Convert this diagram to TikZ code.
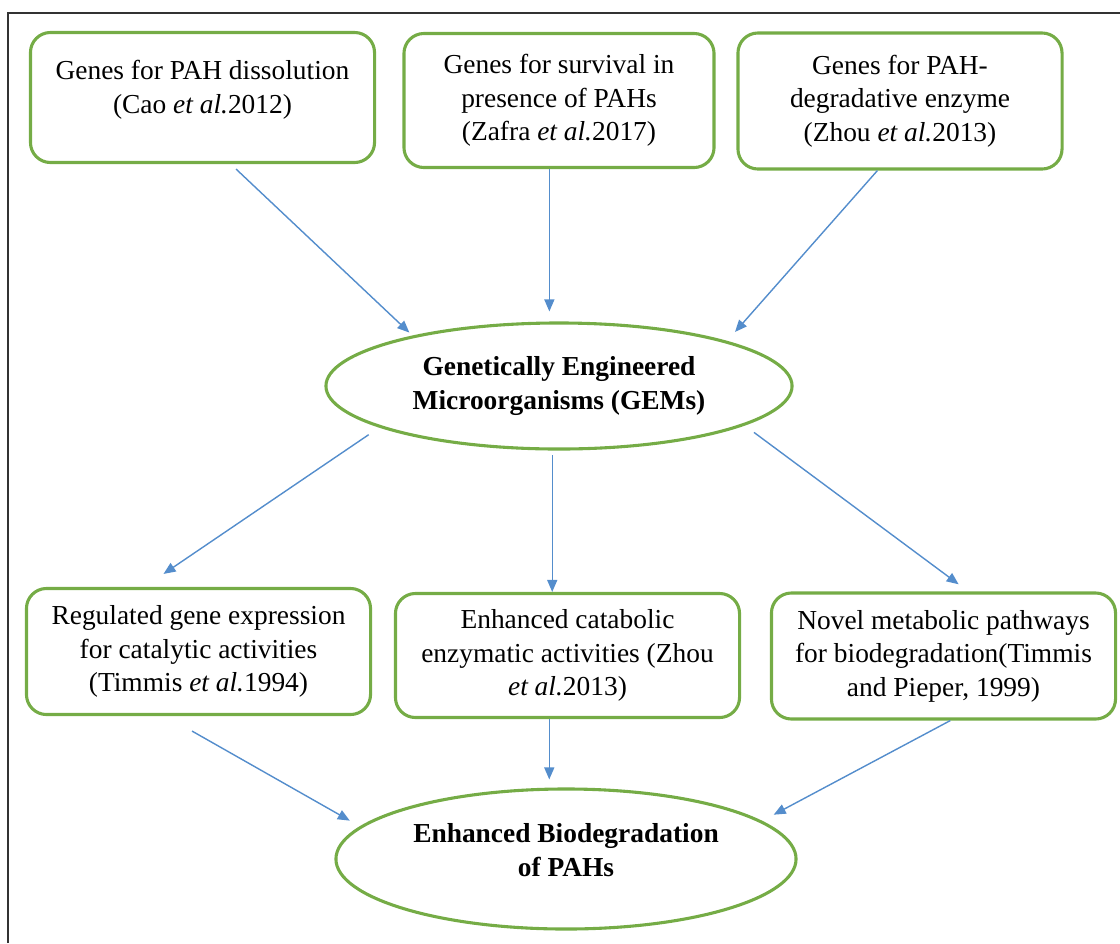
\documentclass[tikz,border=0pt]{standalone}
\usepackage{fontspec}
\setmainfont{Liberation Serif}
\usetikzlibrary{arrows.meta,shapes.geometric}
\definecolor{boxgreen}{RGB}{117,172,70}
\definecolor{arrowblue}{RGB}{84,141,204}
\begin{document}
\begin{tikzpicture}[x=0.025cm,y=-0.025cm]
\tikzset{
  txt/.style={font=\fontsize{19.5}{23.8}\selectfont, align=center, inner sep=0pt},
  gbox/.style={txt, draw=boxgreen, line width=2.2pt, rounded corners=0.5cm},
  gell/.style={txt, ellipse, draw=boxgreen, line width=2.2pt, font=\fontsize{19.5}{23.8}\selectfont\bfseries},
  conn/.style={draw=arrowblue, line width=1pt, -{Triangle[length=0.3cm,width=0.25cm]}},
}
\useasboundingbox (0,0) rectangle (1120,943);

\draw[line width=1.5pt, black!80] (8,943) -- (8,13) -- (1120,13);

%% Top row
\node[gbox, minimum width=8.6cm, minimum height=3.25cm] (cao) at (202.5,97.5) {Genes for PAH dissolution\\(Cao \textit{et al.}2012)\\[-0.3cm]\mbox{}};
\node[gbox, minimum width=7.75cm, minimum height=3.35cm] (zafra) at (559,100.5) {Genes for survival in\\presence of PAHs\\(Zafra \textit{et al.}2017)};
\node[gbox, minimum width=8.1cm, minimum height=3.4cm] (zhou) at (900,101) {Genes for PAH-\\degradative enzyme\\(Zhou \textit{et al.}2013)};

%% GEMs
\node[gell, minimum width=11.65cm, minimum height=3.15cm] (gem) at (559,386) {Genetically Engineered\\Microorganisms (GEMs)};

%% Bottom row
\node[gbox, minimum width=8.6cm, minimum height=3.15cm] (timmis) at (198.5,651.5) {Regulated gene expression\\for catalytic activities\\(Timmis \textit{et al.}1994)};
\node[gbox, minimum width=8.6cm, minimum height=3.1cm] (enzact) at (567.5,655.5) {Enhanced catabolic\\enzymatic activities (Zhou\\\textit{et al.}2013)};
\node[gbox, minimum width=8.6cm, minimum height=3.15cm] (novel) at (943.5,656) {Novel metabolic pathways\\for biodegradation(Timmis\\and Pieper, 1999)};

%% Result
\node[gell, minimum width=11.5cm, minimum height=3.5cm] (pah) at (566,859) {Enhanced Biodegradation\\of PAHs\\[-0.38cm]\mbox{}};

%% Arrows
\draw[conn, shorten <=0.18cm, shorten >=0.11cm] (cao.-67) -- (gem.161);
\draw[conn, shorten >=0.25cm] (zafra.-98) -- (zafra.-98 |- gem.north);
\draw[conn, shorten >=0.3cm] (zhou.-108) -- (gem.15);
\draw[conn, shorten <=0.32cm, shorten >=0.58cm] (gem.-167) -- (timmis.130);
\draw[conn, shorten <=0.12cm] (gem.-96) -- (gem.-96 |- enzact.north);
\draw[conn, shorten <=0.29cm, shorten >=0.3cm] (gem.-12) -- (novel.69);
\draw[conn, shorten <=0.76cm, shorten >=0.29cm] (timmis.-117) -- (pah.171);
\draw[conn, shorten >=0.2cm] (enzact.-106) -- (enzact.-106 |- pah.north);
\draw[conn, shorten >=0.33cm] (novel.-84) -- (pah.11);
\end{tikzpicture}
\end{document}
